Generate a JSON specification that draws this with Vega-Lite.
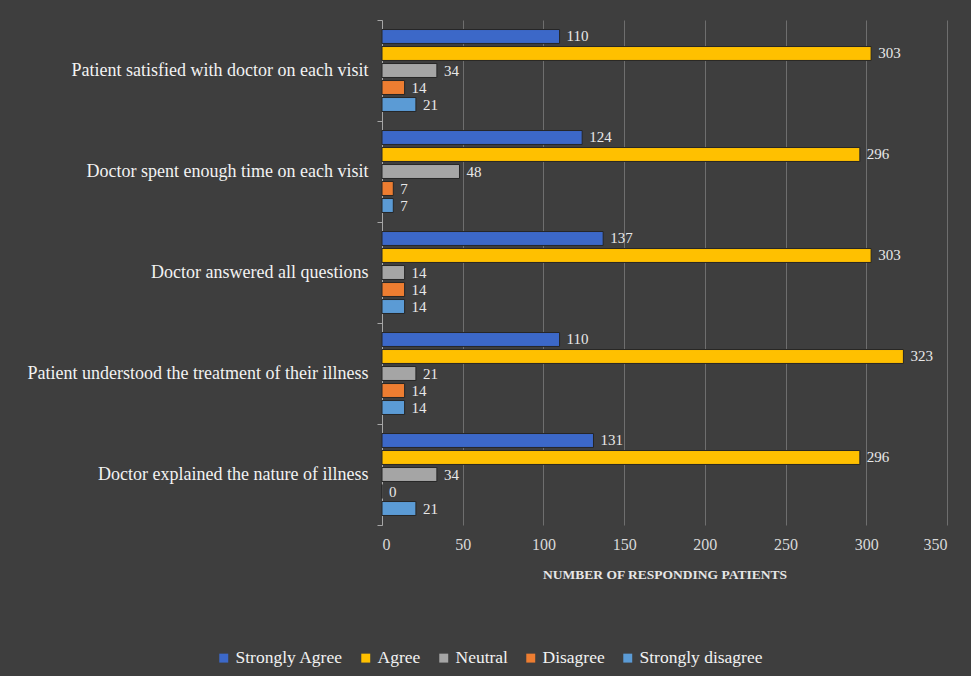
{
  "$schema": "https://vega.github.io/schema/vega-lite/v6.json",
  "autosize": "none",
  "width": 565,
  "height": 505,
  "padding": {"left": 382, "top": 20, "right": 24, "bottom": 151},
  "background": "#3e3e3e",
  "config": {
    "font": "Liberation Serif",
    "view": {"stroke": null}
  },
  "data": {
    "values": [
      {"question": "Patient satisfied with doctor on each visit", "response": "Strongly Agree", "count": 110},
      {"question": "Patient satisfied with doctor on each visit", "response": "Agree", "count": 303},
      {"question": "Patient satisfied with doctor on each visit", "response": "Neutral", "count": 34},
      {"question": "Patient satisfied with doctor on each visit", "response": "Disagree", "count": 14},
      {"question": "Patient satisfied with doctor on each visit", "response": "Strongly disagree", "count": 21},
      {"question": "Doctor spent enough time on each visit", "response": "Strongly Agree", "count": 124},
      {"question": "Doctor spent enough time on each visit", "response": "Agree", "count": 296},
      {"question": "Doctor spent enough time on each visit", "response": "Neutral", "count": 48},
      {"question": "Doctor spent enough time on each visit", "response": "Disagree", "count": 7},
      {"question": "Doctor spent enough time on each visit", "response": "Strongly disagree", "count": 7},
      {"question": "Doctor answered all questions", "response": "Strongly Agree", "count": 137},
      {"question": "Doctor answered all questions", "response": "Agree", "count": 303},
      {"question": "Doctor answered all questions", "response": "Neutral", "count": 14},
      {"question": "Doctor answered all questions", "response": "Disagree", "count": 14},
      {"question": "Doctor answered all questions", "response": "Strongly disagree", "count": 14},
      {"question": "Patient understood the treatment of their illness", "response": "Strongly Agree", "count": 110},
      {"question": "Patient understood the treatment of their illness", "response": "Agree", "count": 323},
      {"question": "Patient understood the treatment of their illness", "response": "Neutral", "count": 21},
      {"question": "Patient understood the treatment of their illness", "response": "Disagree", "count": 14},
      {"question": "Patient understood the treatment of their illness", "response": "Strongly disagree", "count": 14},
      {"question": "Doctor explained the nature of illness", "response": "Strongly Agree", "count": 131},
      {"question": "Doctor explained the nature of illness", "response": "Agree", "count": 296},
      {"question": "Doctor explained the nature of illness", "response": "Neutral", "count": 34},
      {"question": "Doctor explained the nature of illness", "response": "Disagree", "count": 0},
      {"question": "Doctor explained the nature of illness", "response": "Strongly disagree", "count": 21}
    ]
  },
  "encoding": {
    "y": {
      "field": "question",
      "type": "nominal",
      "sort": null,
      "scale": {"paddingInner": 0, "paddingOuter": 0},
      "axis": {
        "title": null,
        "labelFontSize": 18,
        "labelColor": "#f2f2f2",
        "labelPadding": 9,
        "labelLimit": 400,
        "domainColor": "#a6a6a6",
        "tickColor": "#a6a6a6",
        "tickBand": "extent",
        "tickSize": 5,
        "grid": false
      }
    },
    "yOffset": {
      "field": "response",
      "type": "nominal",
      "sort": ["Strongly Agree", "Agree", "Neutral", "Disagree", "Strongly disagree"],
      "scale": {"paddingInner": 0.18, "paddingOuter": 0.56}
    },
    "x": {
      "field": "count",
      "type": "quantitative",
      "scale": {"domain": [0, 350], "nice": false},
      "axis": {
        "title": "NUMBER OF RESPONDING PATIENTS",
        "titleColor": "#e6e6e6",
        "titleFontSize": 13.5,
        "titleFontWeight": "bold",
        "titlePadding": 15,
        "labelColor": "#d9d9d9",
        "labelFontSize": 16,
        "labelPadding": 11,
        "values": [0, 50, 100, 150, 200, 250, 300, 350],
        "domain": false,
        "ticks": false,
        "grid": true,
        "gridColor": "#6e6e6e",
        "gridWidth": 1
      }
    }
  },
  "layer": [
    {
      "mark": {"type": "bar", "stroke": "#262626", "strokeWidth": 1},
      "encoding": {
        "color": {
          "field": "response",
          "type": "nominal",
          "sort": ["Strongly Agree", "Agree", "Neutral", "Disagree", "Strongly disagree"],
          "scale": {
            "domain": ["Strongly Agree", "Agree", "Neutral", "Disagree", "Strongly disagree"],
            "range": ["#3c68c8", "#ffc000", "#a5a5a5", "#ed7d31", "#5b9bd5"]
          },
          "legend": {
            "title": null,
            "orient": "none",
            "direction": "horizontal",
            "legendX": -167,
            "legendY": 629,
            "symbolType": "square",
            "symbolSize": 80,
            "symbolStrokeWidth": 0,
            "labelFontSize": 17.5,
            "labelColor": "#f2f2f2",
            "labelOffset": 3,
            "columnPadding": 14
          }
        }
      }
    },
    {
      "mark": {"type": "text", "align": "left", "baseline": "middle", "dx": 7, "fontSize": 15, "color": "#e8e8e8"},
      "encoding": {
        "text": {"field": "count", "type": "quantitative"}
      }
    }
  ]
}
